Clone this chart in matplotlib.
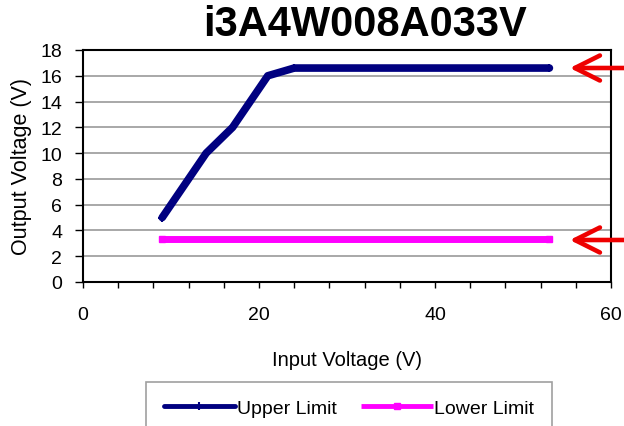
import matplotlib
matplotlib.use("Agg")
import matplotlib.pyplot as plt

title = "i3A4W008A033V"
upper_x = [9, 14, 17, 21, 24, 53]
upper_y = [5.0, 10.0, 12.0, 16.0, 16.6, 16.6]
lower_x = [9, 53]
lower_y = [3.3, 3.3]
x_ticks = [0, 20, 40, 60]
y_ticks = [0, 2, 4, 6, 8, 10, 12, 14, 16, 18]

W, H = 624, 427
fig = plt.figure(figsize=(W/100, H/100), dpi=100)
plt.rcParams['font.family'] = ['Liberation Sans', 'DejaVu Sans']

ax = fig.add_axes([83/W, 1-283/H, (611-83)/W, (283-51)/H])
ax.plot(upper_x, upper_y, color='#000080', lw=5.5, solid_capstyle='round',
        marker='+', ms=6, mew=1.5, label='Upper Limit')
ax.plot(lower_x, lower_y, color='#ff00ff', lw=5, solid_capstyle='butt',
        marker='s', ms=4, label='Lower Limit')

ax.set_xlim(0, 60)
ax.set_ylim(0, 18)
ax.set_xticks(x_ticks)
ax.set_xticks(range(0, 61, 4), minor=True)
ax.set_yticks(y_ticks)
ax.yaxis.grid(True, color='#999999', lw=1.2)
ax.set_axisbelow(True)
for s in ax.spines.values():
    s.set_linewidth(1.5)
    s.set_color('black')
ax.tick_params(axis='x', which='both', direction='out', length=4, width=1, pad=13, labelsize=14)
ax.tick_params(axis='y', direction='out', length=6, width=1, pad=9, labelsize=14)
ax.set_xlabel('Input Voltage (V)', fontsize=14.5, labelpad=20)
ax.set_ylabel('Output Voltage (V)', fontsize=15.5, labelpad=6)

fig.text(365/W, 1-25/H, title, fontsize=30, fontweight='bold', ha='center', va='center')

leg = fig.legend(loc='upper left', bbox_to_anchor=(146/W, 1-383/H), ncol=2,
                 fontsize=14, frameon=True, fancybox=False, edgecolor='#888888',
                 handlelength=3.7, handletextpad=0.1, columnspacing=1.2,
                 borderpad=0.9, borderaxespad=0)
leg.get_frame().set_linewidth(1.2)
for ln in leg.get_lines():
    ln.set_linewidth(3.5)

for yv in [69, 241]:
    ax.annotate('', xy=(567/W, 1-yv/H), xycoords='figure fraction',
                xytext=(640/W, 1-yv/H), textcoords='figure fraction',
                arrowprops=dict(arrowstyle='->,head_length=1.8,head_width=0.9',
                                color='#ee0000', lw=3.3, capstyle='round',
                                joinstyle='round'), annotation_clip=False)

fig.savefig('out.png', dpi=100)
